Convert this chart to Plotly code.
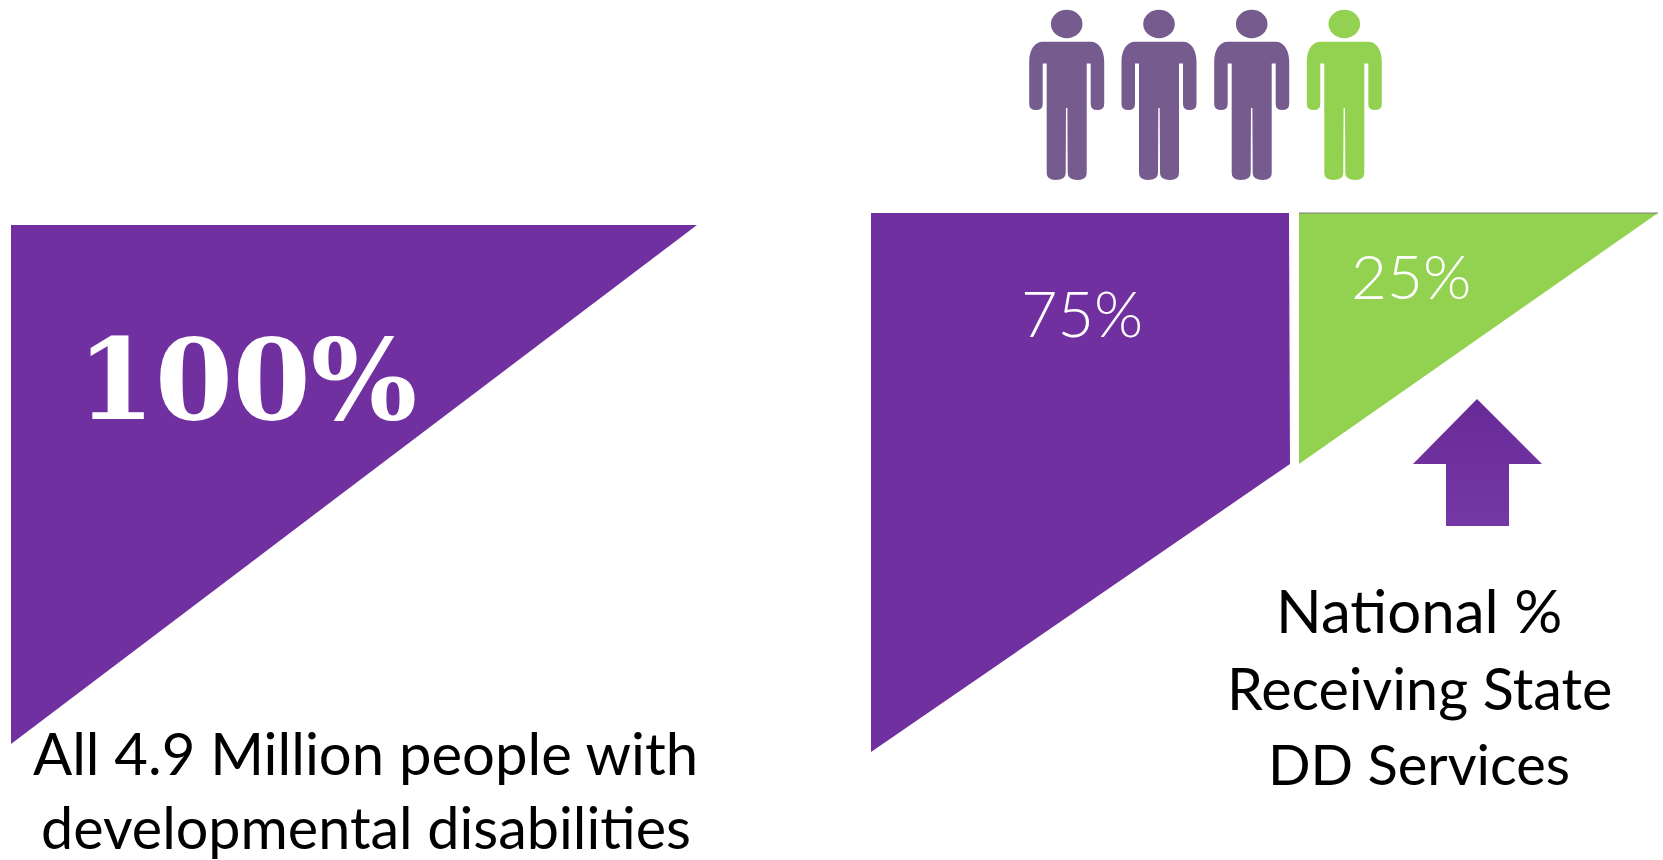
import plotly.graph_objects as go

# Outlines on a 1663 x 860 drawing plane
all_people_x = [11, 697, 11]
all_people_y = [225, 225, 744]
not_served_x = [871, 1289, 1290, 871]
not_served_y = [213, 213, 464, 752]
served_x = [1299, 1658, 1299]
served_y = [213, 213, 464]
arrow_x = [1477, 1542, 1509, 1509, 1446, 1446, 1413]
arrow_y = [399, 464, 464, 526, 526, 464, 464]

person_centres = [1066.7, 1159, 1251.7, 1344.3]
person_colours = ["#755B8E", "#755B8E", "#755B8E", "#93D250"]

PURPLE = "#7030A0"
GREEN = "#93D250"
SANS = "Lato, Open Sans, sans-serif"

labels = [
    ("100%", 247, 379, 112, "DejaVu Serif", "bold", "white"),
    ("75%", 1082, 312, 63, SANS, 300, "white"),
    ("25%", 1411, 275, 62, SANS, 300, "white"),
    ("All 4.9 Million people with", 365, 752, 58, SANS, "normal", "black"),
    ("developmental disabilities", 366, 826, 57.5, SANS, "normal", "black"),
    ("National %", 1419, 610, 60, SANS, "normal", "black"),
    ("Receiving State", 1419, 687, 57.5, SANS, "normal", "black"),
    ("DD Services", 1419, 763, 56, SANS, "normal", "black"),
]


def person_body(c):
    """Outline of the figure's torso, arms and legs around centre x = c."""
    top, arm_gap, arm_end, crotch, foot = 41.7, 63.5, 110, 108, 180
    return (
        f"M {c-24},{top} L {c+24},{top} "
        f"C {c+32},{top} {c+37.5},{top+8} {c+37.5},{top+20} "
        f"L {c+37.5},{arm_end-6} Q {c+37.5},{arm_end} {c+30.5},{arm_end} "
        f"Q {c+24},{arm_end} {c+24},{arm_end-6} "
        f"L {c+24},{arm_gap} L {c+20},{arm_gap} "
        f"L {c+20},{foot-7} Q {c+20},{foot} {c+11},{foot} "
        f"Q {c+1},{foot} {c+1},{foot-7} L {c+0.7},{crotch} "
        f"L {c-0.7},{crotch} L {c-1},{foot-7} "
        f"Q {c-1},{foot} {c-11},{foot} Q {c-20},{foot} {c-20},{foot-7} "
        f"L {c-20},{arm_gap} L {c-24},{arm_gap} "
        f"L {c-24},{arm_end-6} Q {c-24},{arm_end} {c-30.5},{arm_end} "
        f"Q {c-37.5},{arm_end} {c-37.5},{arm_end-6} "
        f"L {c-37.5},{top+20} C {c-37.5},{top+8} {c-32},{top} {c-24},{top} Z"
    )


fig = go.Figure()

for xs, ys, colour in [
    (all_people_x, all_people_y, PURPLE),
    (not_served_x, not_served_y, PURPLE),
    (served_x, served_y, GREEN),
]:
    fig.add_trace(go.Scatter(
        x=xs + xs[:1], y=ys + ys[:1], mode="lines", fill="toself",
        fillcolor=colour, line=dict(width=0), hoverinfo="skip",
    ))

# Hairline along the top edge of the green wedge
fig.add_trace(go.Scatter(
    x=served_x[:2], y=served_y[:2], mode="lines",
    line=dict(width=1, color="#7C7A80"), hoverinfo="skip",
))

# Up arrow with its faint top-to-bottom shading
fig.add_trace(go.Scatter(
    x=arrow_x + arrow_x[:1], y=arrow_y + arrow_y[:1], mode="lines", fill="toself",
    fillgradient=dict(type="vertical", colorscale=[[0, "#7438A4"], [1, "#682A96"]]),
    line=dict(width=0), hoverinfo="skip",
))

shapes = []
for c, colour in zip(person_centres, person_colours):
    shapes.append(dict(type="path", path=person_body(c), fillcolor=colour,
                       line=dict(width=0), xref="x", yref="y"))
    shapes.append(dict(type="circle", x0=c-15.8, x1=c+15.8, y0=9.8, y1=38.2,
                       fillcolor=colour, line=dict(width=0), xref="x", yref="y"))

annotations = [
    dict(text=t, x=x, y=y, xref="x", yref="y", showarrow=False,
         xanchor="center", yanchor="middle",
         font=dict(family=fam, size=size, weight=weight, color=col))
    for t, x, y, size, fam, weight, col in labels
]

fig.update_layout(
    width=1663, height=860, autosize=False,
    margin=dict(l=0, r=0, t=0, b=0),
    paper_bgcolor="white", plot_bgcolor="white", showlegend=False,
    xaxis=dict(range=[0, 1663], visible=False, fixedrange=True),
    yaxis=dict(range=[860, 0], visible=False, fixedrange=True),
    shapes=shapes, annotations=annotations,
)

fig.write_html("out.html", config={"displayModeBar": False})
